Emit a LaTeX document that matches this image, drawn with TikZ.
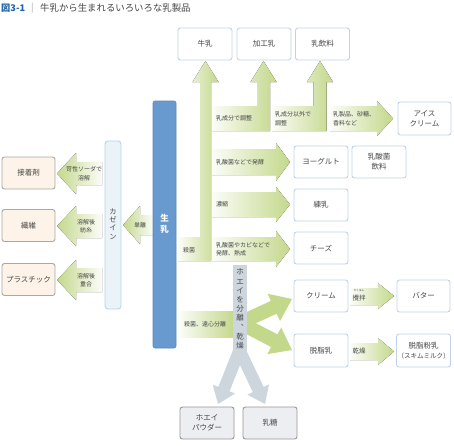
\documentclass[tikz,border=0pt]{standalone}
\usepackage{fontspec}
\newfontfamily\jp{Noto Sans CJK JP}
\definecolor{grn}{RGB}{196,216,140}
\definecolor{boxblue}{RGB}{192,210,232}
\definecolor{txt}{RGB}{70,70,70}
\definecolor{peach}{RGB}{253,243,232}
\definecolor{bord}{RGB}{168,168,168}
\definecolor{lgrey}{RGB}{236,238,241}
\definecolor{wgrey}{RGB}{205,213,221}
\definecolor{milkblue}{RGB}{104,153,207}
\definecolor{casein}{RGB}{234,244,248}
\definecolor{caseinb}{RGB}{185,211,232}
\definecolor{titleblue}{RGB}{30,100,170}
\tikzset{
  wbox/.style={draw=boxblue, fill=white, rounded corners=2.5pt, line width=0.9pt,
    minimum width=54pt, minimum height=32pt, inner sep=1pt, align=center, text=txt,
    font=\jp\fontsize{7.5}{10}\selectfont},
  lbox/.style={wbox, draw=bord, fill=peach, minimum width=53pt},
  gbox/.style={wbox, draw=bord!90!black, fill=lgrey},
  lab/.style={font=\jp\fontsize{6}{8.5}\selectfont, text=txt, align=left, anchor=west, inner sep=0pt},
  labc/.style={lab, align=center, anchor=center},
  garrow/.style={left color=grn!6!white, right color=grn},
  larrow/.style={left color=grn, right color=grn!6!white},
  solidg/.style={fill=grn},
  greyarrow/.style={fill=wgrey},
}
\begin{document}
\begin{tikzpicture}[x=1pt,y=-1pt]
\useasboundingbox[fill=white] (0,0) rectangle (454,445);

% title
\node[anchor=west, inner sep=0pt, font=\jp\bfseries\fontsize{9.2}{11}\selectfont, text=titleblue] (fig) at (1,8) {図3-1};
\node[anchor=west, inner sep=0pt, font=\jp\fontsize{9}{11}\selectfont, text=black!35] (sep) at (31,8) {|};
\node[anchor=west, inner sep=0pt, font=\jp\fontsize{9.4}{11}\selectfont, text=txt] (title) at (40,8) {牛乳から生まれるいろいろな乳製品};

% ---------- green structure ----------
% main up arrow with 殺菌 block
\fill[garrow] (178,237) -- (200,237) -- (200,82) -- (192.5,82) -- (205.5,61) -- (218.5,82) -- (211,82) -- (211,261) -- (178,261) -- cycle;
% 乳成分で調整 -> 加工乳
\fill[garrow] (212,106) -- (257,106) -- (257,82) -- (250.5,82) -- (263.5,61) -- (276.5,82) -- (270,82) -- (270,131) -- (212,131) -- cycle;
% 乳成分以外で調整 -> 乳飲料
\fill[garrow] (272,106) -- (313.5,106) -- (313.5,82) -- (307,82) -- (320,61) -- (333,82) -- (326.5,82) -- (326.5,131) -- (272,131) -- cycle;
% -> アイスクリーム
\fill[garrow] (330,106) -- (377,106) -- (377,101) -- (393,118.5) -- (377,136) -- (377,131) -- (330,131) -- cycle;
% -> ヨーグルト
\fill[garrow] (212,149) -- (276,149) -- (276,143) -- (290,162) -- (276,181) -- (276,175) -- (212,175) -- cycle;
% -> 練乳
\fill[garrow] (212,192) -- (276,192) -- (276,187) -- (290,204.5) -- (276,222) -- (276,217) -- (212,217) -- cycle;
% -> チーズ
\fill[garrow] (212,237) -- (276,237) -- (276,231) -- (290,249) -- (276,267) -- (276,261) -- (212,261) -- cycle;
% 殺菌、遠心分離 block
\fill[garrow] (179,311) rectangle (234,337);
% fork to クリーム / 脱脂乳
\fill[solidg] (243.1,313.6) -- (270.9,300.9) -- (267.6,293.7) -- (292,299) -- (280.0,321.0) -- (276.7,313.7) -- (248.9,326.4) -- cycle;
\fill[solidg] (249.2,319.8) -- (277.5,334.3) -- (281.2,327.5) -- (292,350) -- (267.4,354.1) -- (271.1,347.0) -- (242.8,332.2) -- cycle;
% 攪拌, 乾燥
\fill[garrow] (350,288) -- (378,288) -- (378,283) -- (394,296) -- (378,309) -- (378,305) -- (350,305) -- cycle;
\fill[garrow] (350,343) -- (378,343) -- (378,338) -- (394,351.5) -- (378,365) -- (378,360) -- (350,360) -- cycle;

% left arrows
\fill[larrow] (102,162) -- (76,162) -- (76,153) -- (57,173.5) -- (76,194) -- (76,185) -- (102,185) -- cycle;
\fill[larrow] (102,214) -- (76,214) -- (76,206) -- (57,226) -- (76,246) -- (76,238) -- (102,238) -- cycle;
\fill[larrow] (102,268) -- (76,268) -- (76,260) -- (57,280) -- (76,300) -- (76,292) -- (102,292) -- cycle;
\fill[larrow] (153,215) -- (140,215) -- (140,206) -- (123,225) -- (140,244) -- (140,235) -- (153,235) -- cycle;

% ---------- grey whey Y ----------
\fill[greyarrow] (245.1,352.2) -- (229.5,391.3) -- (235.0,393.5) -- (218,404) -- (212.8,384.7) -- (218.3,386.9) -- (233.9,347.8) -- cycle;
\fill[greyarrow] (234.1,352.6) -- (252.8,392.1) -- (247.4,394.6) -- (265,404) -- (269.0,384.4) -- (263.6,386.9) -- (244.9,347.4) -- cycle;
\fill[greyarrow] (233,265) rectangle (247,354);
\node[font=\jp\fontsize{7.5}{9.2}\selectfont, text=txt, align=center, inner sep=0pt] (whey) at (240,309) {ホ\\エ\\イ\\を\\分\\離\\︑\\乾\\燥};

% ---------- bars ----------
\node[draw=milkblue!90!black, line width=0.6pt, fill=milkblue, rounded corners=2pt, minimum width=23pt, minimum height=247pt, inner sep=0pt] (raw) at (164.5,224.5) {};
\node[font=\jp\bfseries\fontsize{8.5}{11.5}\selectfont, text=white, align=center, inner sep=0pt] (rawt) at (164.5,224) {生\\乳};
\node[draw=caseinb, line width=0.9pt, fill=casein, rounded corners=3pt, minimum width=16pt, minimum height=168pt, inner sep=0pt] (cas) at (113,225) {};
\node[font=\jp\fontsize{7.2}{8.3}\selectfont, text=txt, align=center, inner sep=0pt] (cast) at (113,224) {カ\\ゼ\\イ\\ン};

% ---------- boxes ----------
\node[wbox] (milk) at (205,44) {牛乳};
\node[wbox] (kakou) at (264,44) {加工乳};
\node[wbox] (inryo) at (322.5,44) {乳飲料};
\node[wbox, minimum width=53pt, minimum height=33pt] (ice) at (424.5,118.5) {アイス\\クリーム};
\node[wbox] (yog) at (321,162) {ヨーグルト};
\node[wbox] (lact) at (379,162) {乳酸菌\\飲料};
\node[wbox] (ren) at (321,205) {練乳};
\node[wbox] (cheese) at (321,248) {チーズ};
\node[wbox] (cream) at (321,296) {クリーム};
\node[wbox, minimum height=33pt] (skim) at (321,350.5) {脱脂乳};
\node[wbox, minimum width=53pt] (butter) at (423.5,296) {バター};
\node[wbox, minimum width=53pt, minimum height=33pt] (powder) at (423.5,350.5) {脱脂粉乳\\{\fontsize{6.5}{8}\selectfont（スキムミルク）}};
\node[gbox] (wpow) at (207,423) {ホエイ\\パウダー};
\node[gbox] (lacto) at (270,423) {乳糖};
\node[lbox] (glue) at (28.5,173) {接着剤};
\node[lbox] (fiber) at (28.5,225.5) {繊維};
\node[lbox] (plast) at (28.5,279.5) {プラスチック};

% ---------- labels ----------
\node[lab] (l1) at (216,118.5) {乳成分で調整};
\node[lab] (l2) at (275,118.5) {乳成分以外で\\調整};
\node[lab] (l3) at (333,118.5) {乳製品、砂糖、\\香料など};
\node[lab] (l4) at (216,162) {乳酸菌などで発酵};
\node[lab] (l5) at (216,204.5) {濃縮};
\node[lab] (l6) at (216,249) {乳酸菌やカビなどで\\発酵、熟成};
\node[labc] (l7) at (189,250) {殺菌};
\node[labc] (l8) at (205,324) {殺菌、遠心分離};
\node[labc] (l9) at (84,173.5) {苛性ソーダで\\溶解};
\node[labc] (l10) at (86,226) {溶解後\\紡糸};
\node[labc] (l11) at (86,280) {溶解後\\重合};
\node[labc] (l12) at (140,225) {単離};
\node[labc, font=\jp\fontsize{6.5}{8}\selectfont] (l13) at (359,298) {攪拌};
\node[labc, font=\jp\fontsize{2.6}{3}\selectfont] (l13r) at (359,290.5) {かくはん};
\node[labc, font=\jp\fontsize{6.5}{8}\selectfont] (l14) at (359,351.5) {乾燥};
\end{tikzpicture}
\end{document}
